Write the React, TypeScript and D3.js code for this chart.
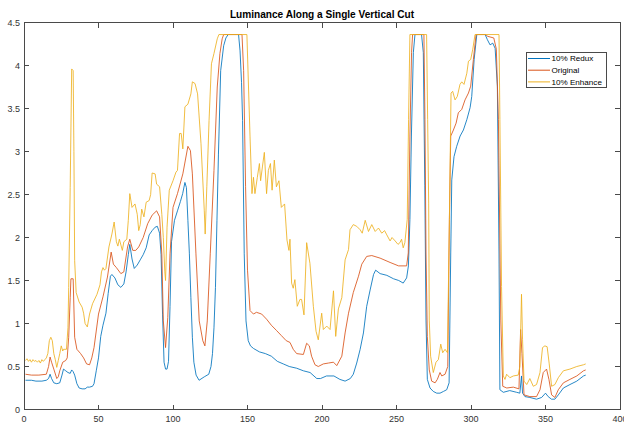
import React from "react";
import * as d3 from "d3";

const title = "Luminance Along a Single Vertical Cut";
const seriesNames = ["10% Redux", "Original", "10% Enhance"];
const seriesColors = ["#0072BD", "#D95319", "#EDB120"];
const xTicks = [0, 50, 100, 150, 200, 250, 300, 350, 400];
const yTicks = [0, 0.5, 1, 1.5, 2, 2.5, 3, 3.5, 4, 4.5];

const redux: [number, number][] = [
  [1,0.34],[5,0.34],[8,0.33],[12,0.33],[15,0.34],[16.5,0.36],[17.5,0.41],[18.5,0.36],[20,0.31],[22,0.30],[24,0.31],[25.5,0.40],[26.5,0.47],[28,0.45],[29.5,0.43],[31,0.42],[32,0.46],[33,0.44],[34,0.40],[35.5,0.30],[37,0.25],[39,0.24],[41,0.24],[42.5,0.26],[44,0.26],[46,0.27],[47,0.30],[48.5,0.45],[50,0.60],[51.5,0.85],[53,0.98],[55,1.12],[56.5,1.35],[58,1.55],[59,1.57],[61,1.53],[63,1.45],[65,1.42],[67,1.46],[68.5,1.60],[70,1.80],[71,1.92],[72.5,1.75],[74,1.64],[76,1.68],[78,1.74],[80,1.80],[82,1.88],[84,2.03],[86,2.08],[88,2.12],[89.5,2.13],[91,2.05],[92,1.80],[93,1.10],[94,0.55],[95,0.47],[96,0.47],[97,0.56],[98,1.20],[99,1.95],[101,2.20],[103,2.31],[105,2.42],[106.5,2.51],[108,2.64],[109,2.58],[110,2.20],[111,1.81],[112,1.30],[113,0.84],[114,0.55],[115.5,0.40],[117.5,0.34],[121,0.38],[124,0.41],[125.5,0.50],[126.5,0.65],[127.5,0.95],[128.5,1.42],[129.5,2.20],[130.5,2.97],[132,3.94],[134,4.23],[135.5,4.32],[137,4.36],[144,4.36],[145,4.17],[146,3.80],[146.7,3.36],[147.8,1.81],[149,1.03],[150.5,0.80],[152,0.74],[154,0.71],[158,0.67],[162,0.65],[166,0.62],[170,0.56],[174,0.53],[178,0.50],[183,0.48],[187.5,0.45],[192,0.43],[196.5,0.36],[199,0.36],[203,0.39],[208,0.39],[212,0.35],[215.5,0.33],[219,0.36],[221,0.41],[223.3,0.54],[225.6,0.70],[227.8,0.89],[230,1.20],[232.3,1.39],[234.6,1.57],[236,1.62],[239,1.58],[243.5,1.56],[248,1.52],[251.5,1.50],[254.5,1.47],[256.8,1.53],[258,1.67],[259,2.21],[260,3.18],[261.3,4.15],[262.4,4.36],[266.8,4.36],[268,4.15],[269,2.60],[269.8,1.04],[270.7,0.35],[272.5,0.25],[274.7,0.21],[277,0.19],[279.2,0.19],[281.5,0.21],[283.7,0.23],[285.3,0.31],[286.4,1.82],[287.1,2.67],[288.6,2.94],[290.4,3.06],[292.7,3.18],[294.9,3.25],[297.2,3.37],[299.4,3.51],[300.5,3.64],[302.1,4.07],[303.9,4.36],[309.5,4.36],[311,4.30],[312.8,4.24],[314.6,4.26],[316.2,4.20],[317.7,3.76],[318.8,1.82],[319.4,0.23],[321.7,0.20],[326,0.22],[330.6,0.20],[332.8,0.19],[333.9,0.39],[334.6,0.19],[336.2,0.15],[339.5,0.14],[344,0.12],[347.4,0.14],[350,0.19],[351.8,0.15],[354,0.12],[356.3,0.12],[358.6,0.17],[362,0.25],[366.4,0.29],[371,0.33],[375.5,0.39],[377,0.40]
];

const original: [number, number][] = [
  [1,0.41],[5,0.40],[10,0.40],[15,0.41],[16.5,0.50],[17.5,0.61],[18.5,0.55],[20,0.47],[22,0.36],[23,0.38],[24,0.45],[26,0.55],[28,0.57],[29,0.60],[30,0.84],[31,1.30],[31.5,1.52],[33,1.52],[34,0.84],[35.5,0.70],[38,0.65],[40,0.60],[42,0.53],[44,0.52],[45.5,0.60],[47,0.72],[50,1.11],[53,1.31],[56,1.54],[58.5,1.83],[60,1.69],[62,1.65],[65,1.58],[67,1.60],[69.5,1.89],[71,1.98],[73,1.85],[75,1.85],[77,1.89],[80,2.00],[83,2.16],[86,2.26],[89,2.31],[91,2.24],[92.5,1.81],[93.5,1.03],[95,0.72],[96.5,1.07],[98,1.81],[100,2.35],[103,2.51],[106.6,2.74],[110,3.06],[111.7,3.01],[113,2.74],[115.4,1.81],[117.6,1.03],[120,0.80],[121.4,0.74],[123,1.03],[125,1.81],[127.5,2.78],[129.7,3.75],[131.5,4.14],[133,4.31],[134,4.36],[146.3,4.36],[147.4,3.94],[148.7,2.59],[150,1.62],[151.7,1.15],[154,1.11],[156,1.13],[159.5,1.11],[162.8,1.05],[166,0.98],[169.4,0.92],[172.7,0.86],[176,0.80],[178.5,0.78],[180.7,0.70],[183,0.65],[187.5,0.64],[189.7,0.77],[191.5,0.74],[193,0.62],[195.3,0.52],[197.5,0.50],[200.9,0.53],[204.3,0.54],[207.7,0.55],[209.9,0.51],[213.3,0.62],[215.5,0.89],[217.8,1.12],[221,1.36],[224.5,1.55],[226.7,1.69],[230,1.78],[233.4,1.79],[239,1.76],[245.7,1.71],[251.4,1.67],[256.8,1.67],[257.9,1.82],[259,3.18],[260.1,4.15],[260.8,4.36],[268.4,4.36],[269.1,3.37],[269.8,1.82],[270.7,0.85],[272,0.46],[273.6,0.33],[275.9,0.31],[277.4,0.35],[279.2,0.43],[280.4,0.39],[282.6,0.41],[284.4,0.50],[285.5,2.21],[286.4,3.18],[288.2,3.25],[290,3.33],[291.5,3.45],[293.8,3.49],[296,3.60],[298.3,3.68],[299.8,3.76],[301.6,4.07],[303.4,4.36],[310,4.36],[311,4.34],[315.3,4.32],[317,4.19],[318.4,3.37],[320,1.04],[321.3,0.27],[324,0.25],[328.4,0.26],[332.2,0.24],[333.3,0.93],[334.2,0.65],[335.6,0.17],[339.5,0.15],[344,0.15],[346.3,0.23],[348.5,0.43],[350.7,0.47],[352.3,0.35],[354.1,0.17],[356.3,0.14],[358.6,0.23],[362,0.31],[366.4,0.35],[371,0.39],[375.5,0.45],[377,0.46]
];

const enhance: [number, number][] = [
  [1,0.57],[2,0.59],[3,0.56],[4,0.58],[5,0.55],[6,0.58],[7,0.56],[8,0.57],[9,0.55],[10,0.57],[11,0.54],[12,0.58],[13,0.56],[14,0.58],[15,0.60],[16,0.65],[17,0.80],[18,0.84],[19,0.80],[20,0.65],[21,0.58],[22,0.49],[23,0.57],[24,0.65],[25,0.74],[26,0.68],[26.5,0.70],[28.5,0.70],[29.5,0.95],[30,1.42],[31,2.58],[32,3.96],[33,3.94],[33.5,3.0],[34,1.73],[35,1.36],[37,1.25],[39,1.19],[40,1.12],[41,1.00],[42.5,0.96],[44,1.11],[46,1.23],[49,1.34],[51,1.45],[52,1.60],[53,1.65],[54,1.62],[55,1.64],[57,1.89],[59,2.04],[60.5,2.18],[62,1.95],[63,1.90],[64,1.98],[66,1.85],[67,1.95],[69,1.98],[70,2.20],[71,2.51],[72.5,2.35],[74.5,2.39],[76,2.27],[77,2.08],[78,2.15],[79,2.33],[80.5,2.24],[82,2.41],[84,2.43],[85,2.50],[86,2.75],[88,2.74],[89,2.62],[91,2.59],[92.5,2.27],[93.5,2.00],[94.5,1.60],[95,1.50],[96,2.12],[97.5,2.55],[100,2.66],[102,2.76],[103,2.78],[104.4,3.21],[105.5,3.21],[106.6,3.03],[108,3.52],[110,3.55],[112,3.67],[113,3.81],[114.8,3.79],[116.5,3.67],[118.8,3.09],[121,2.31],[121.6,2.04],[122.7,2.59],[124.2,3.36],[125.8,4.02],[127.5,4.14],[129.7,4.31],[130.8,4.36],[149.6,4.36],[151.7,3.17],[153,2.51],[154,2.70],[155,2.51],[156.6,2.70],[158,2.86],[158.8,2.66],[160,2.82],[161.3,2.99],[162.8,2.51],[164,2.78],[165.4,2.86],[166.5,2.55],[168,2.90],[169.4,2.59],[171.1,2.66],[172.7,2.35],[174.9,2.39],[176.5,1.97],[177.8,1.85],[178.5,1.98],[179.6,1.47],[180.7,1.41],[181.8,1.51],[183.4,1.20],[185.2,1.28],[186.3,1.28],[187.9,1.10],[189.7,1.94],[191.9,1.70],[194.2,1.20],[196,0.91],[197.5,0.81],[199.8,1.12],[200.9,0.93],[203.2,0.97],[205.4,0.93],[207.7,1.38],[209.2,0.85],[211,1.17],[213.3,1.30],[215.5,1.74],[217.8,1.86],[218.8,2.09],[221,2.15],[223.3,2.13],[225.6,2.09],[227,2.05],[229,2.20],[231.2,2.07],[233.4,2.15],[235.7,2.07],[237.9,2.11],[240.1,2.05],[242,2.08],[243.5,2.03],[245.7,1.96],[247,2.0],[249.1,1.96],[251,1.92],[252.3,1.94],[253.4,1.98],[254.5,1.88],[255.6,1.94],[257.2,2.21],[258.1,3.37],[259,4.36],[270.2,4.36],[270.9,3.37],[271.6,2.40],[272,1.04],[272.9,0.62],[274.7,0.43],[276.5,0.55],[278.1,0.58],[279.7,0.76],[281,0.66],[282.6,0.70],[284.2,0.66],[285.5,2.21],[286.6,3.68],[287.7,3.70],[289.3,3.60],[290.8,3.64],[292.6,3.78],[293.8,3.81],[295.3,3.78],[297.2,3.91],[298.3,4.05],[299.8,4.07],[301.2,4.19],[302.7,4.36],[318.8,4.36],[319.4,3.37],[320.5,1.43],[321.7,0.39],[322.8,0.35],[323.9,0.41],[326.1,0.37],[328.4,0.39],[331.7,0.40],[332.8,0.50],[333.9,1.34],[334.6,0.81],[335.6,0.33],[337.4,0.29],[339.5,0.36],[341.8,0.27],[344,0.29],[346.3,0.43],[348,0.72],[349.6,0.74],[351.1,0.73],[352.5,0.53],[354.1,0.27],[356.3,0.29],[358.6,0.37],[362,0.45],[366.4,0.47],[371,0.50],[375.5,0.52],[377,0.53]
];

const allSeries = [redux, original, enhance];

const W = 624;
const H = 423;
const L = 24, R = 620, T = 22.5, B = 409.5;
const FONT = "'Liberation Sans', Arial, Helvetica, sans-serif";
const AX = "#4a4a4a";

export default function App() {
  const x = d3.scaleLinear().domain([0, 400]).range([L, R]);
  const y = d3.scaleLinear().domain([0, 4.5]).range([B, T]);
  const line = d3.line<[number, number]>().x((d) => x(d[0])).y((d) => y(d[1]));
  const tk = 5;
  const fmt = (v: number) => String(v);

  const lgX = 526, lgY = 52, lgW = 80, lgH = 35;

  return (
    <svg width={W} height={H} style={{ position: "absolute", left: 0, top: 0, background: "#fff" }}>
      <rect x={0} y={0} width={W} height={H} fill="#fff" />
      <g>
        {allSeries.map((s, i) => (
          <path key={i} d={line(s) || ""} fill="none" stroke={seriesColors[i]} strokeWidth={0.85} strokeLinejoin="round" />
        ))}
      </g>
      <rect x={L} y={T} width={R - L} height={B - T} fill="none" stroke={AX} strokeWidth={1} shapeRendering="crispEdges" />
      {xTicks.map((t) => (
        <g key={"x" + t}>
          <line x1={x(t)} x2={x(t)} y1={B} y2={B - tk} stroke={AX} shapeRendering="crispEdges" />
          <line x1={x(t)} x2={x(t)} y1={T} y2={T + tk} stroke={AX} shapeRendering="crispEdges" />
          <text x={x(t)} y={B + 12} fontSize={9} fontFamily={FONT} fill="#333" textAnchor="middle">{fmt(t)}</text>
        </g>
      ))}
      {yTicks.map((t) => (
        <g key={"y" + t}>
          <line x1={L} x2={L + tk} y1={y(t)} y2={y(t)} stroke={AX} shapeRendering="crispEdges" />
          <line x1={R} x2={R - tk} y1={y(t)} y2={y(t)} stroke={AX} shapeRendering="crispEdges" />
          <text x={L - 4} y={y(t) + 3} fontSize={9} fontFamily={FONT} fill="#333" textAnchor="end">{fmt(t)}</text>
        </g>
      ))}
      <text x={(L + R) / 2} y={T - 5} fontSize={10.1} fontWeight="bold" fontFamily={FONT} fill="#000" textAnchor="middle">{title}</text>
      <g>
        <rect x={lgX} y={lgY} width={lgW} height={lgH} fill="#fff" stroke={AX} strokeWidth={1} shapeRendering="crispEdges" />
        {seriesNames.map((n, i) => (
          <g key={n}>
            <line x1={lgX + 2} x2={lgX + 24} y1={lgY + 6.5 + i * 11.7} y2={lgY + 6.5 + i * 11.7} stroke={seriesColors[i]} strokeWidth={1} />
            <text x={lgX + 25.5} y={lgY + 9.3 + i * 11.7} fontSize={8.1} fontFamily={FONT} fill="#000">{n}</text>
          </g>
        ))}
      </g>
    </svg>
  );
}
